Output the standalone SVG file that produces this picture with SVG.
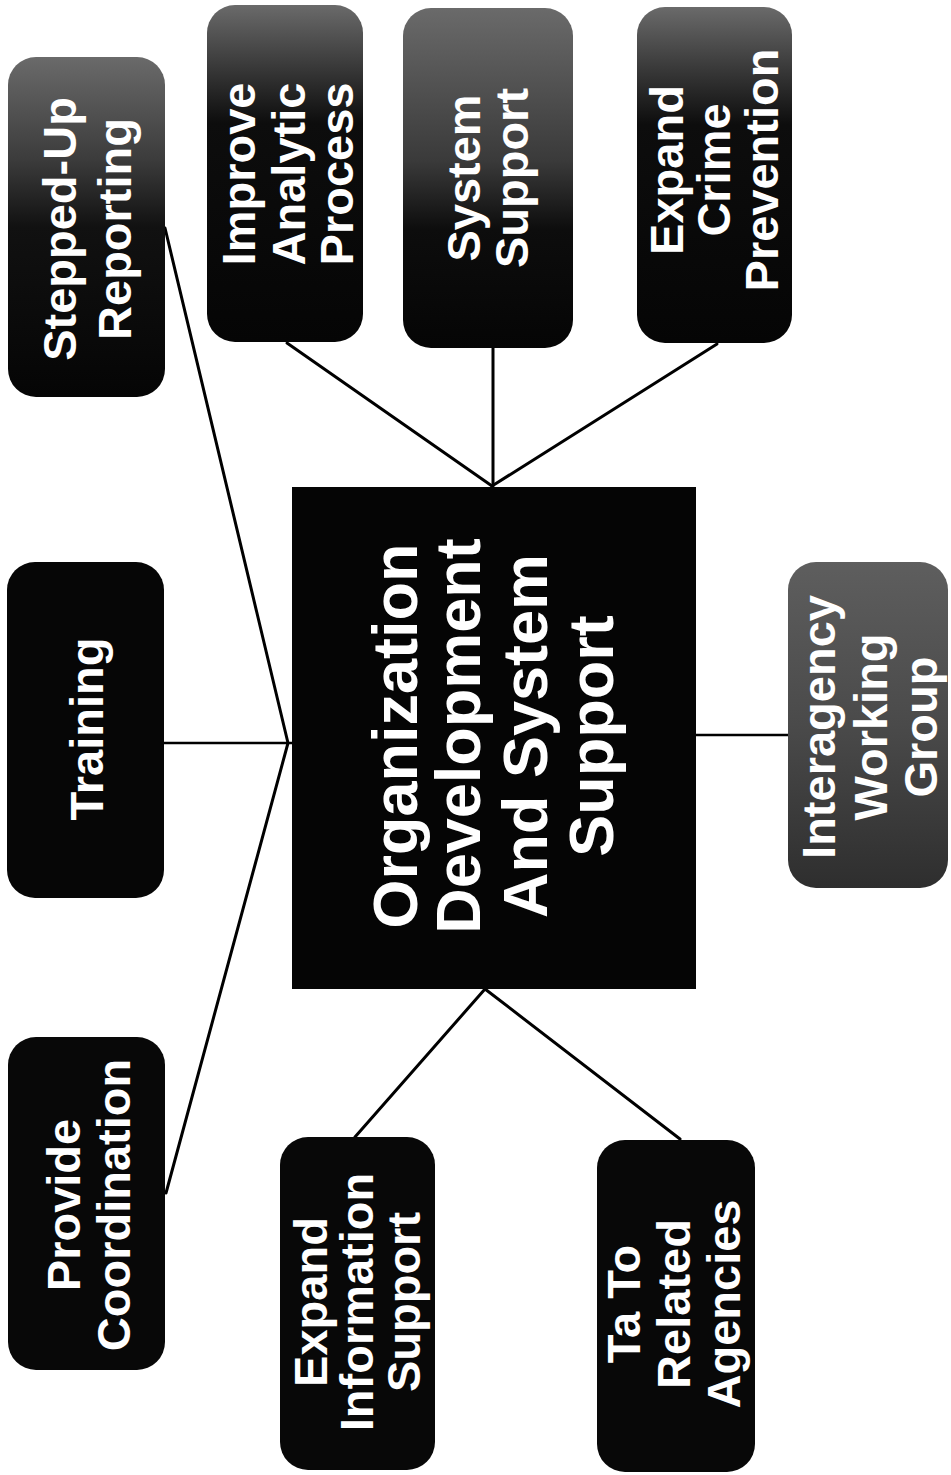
<svg xmlns="http://www.w3.org/2000/svg" width="951" height="1475" viewBox="0 0 951 1475">
<style>
.box{stroke:none}
.lbl{font-family:"Liberation Sans",Arial,Helvetica,sans-serif;font-weight:bold;fill:#fff;text-anchor:middle}
.sm{font-size:47px}
.big{font-size:63px}
.conn line{stroke:#000;stroke-width:3;stroke-linecap:round}
</style>
<defs>
<linearGradient id="gA" x1="0" y1="0" x2="0" y2="1">
<stop offset="0" stop-color="#6a6a6a"/><stop offset="0.3" stop-color="#3c3c3c"/><stop offset="0.5" stop-color="#111"/><stop offset="1" stop-color="#050505"/>
</linearGradient>
<linearGradient id="gB" x1="0" y1="0" x2="0" y2="1">
<stop offset="0" stop-color="#6a6a6a"/><stop offset="0.18" stop-color="#3a3a3a"/><stop offset="0.35" stop-color="#0d0d0d"/><stop offset="1" stop-color="#050505"/>
</linearGradient>
<linearGradient id="gC" x1="0" y1="0" x2="0" y2="1">
<stop offset="0" stop-color="#6a6a6a"/><stop offset="0.45" stop-color="#3a3a3a"/><stop offset="0.65" stop-color="#0d0d0d"/><stop offset="1" stop-color="#050505"/>
</linearGradient>
<linearGradient id="gD" x1="0" y1="0" x2="0" y2="1">
<stop offset="0" stop-color="#5e5e5e"/><stop offset="0.5" stop-color="#4a4a4a"/><stop offset="1" stop-color="#2e2e2e"/>
</linearGradient>
</defs>
<rect width="951" height="1475" fill="#fff"/>
<g class="conn">
<line x1="165" y1="228" x2="288" y2="743"/>
<line x1="164" y1="743" x2="292" y2="743" style="stroke-width:2.5"/>
<line x1="166" y1="1193" x2="288" y2="743"/>
<line x1="287" y1="343" x2="492" y2="486"/>
<line x1="493" y1="348" x2="493" y2="486"/>
<line x1="717" y1="344" x2="492" y2="486"/>
<line x1="696" y1="735" x2="788" y2="735" style="stroke-width:2.5"/>
<line x1="485" y1="989" x2="355" y2="1137"/>
<line x1="485" y1="989" x2="680" y2="1139"/>
</g>
<g id="center">
<rect class="box" x="292" y="487" width="404" height="502" fill="#050505"/>
<g transform="translate(494,736) rotate(-90)">
<text class="lbl big" x="0" y="-77">Organization</text>
<text class="lbl big" x="0" y="-14">Development</text>
<text class="lbl big" x="0" y="53">And System</text>
<text class="lbl big" x="0" y="119">Support</text>
</g>
</g>
<g id="stepped-up-reporting">
<rect class="box" x="8" y="57" width="157" height="340" rx="28" fill="url(#gA)"/>
<g transform="translate(86,229) rotate(-90)">
<text class="lbl sm" x="0" y="-10">Stepped-Up</text>
<text class="lbl sm" x="0" y="45">Reporting</text>
</g>
</g>
<g id="training">
<rect class="box" x="7" y="562" width="157" height="336" rx="28" fill="#060606"/>
<g transform="translate(85,729) rotate(-90)">
<text class="lbl sm" x="0" y="18">Training</text>
</g>
</g>
<g id="provide-coordination">
<rect class="box" x="8" y="1037" width="157" height="333" rx="28" fill="#080808"/>
<g transform="translate(86,1205) rotate(-90)">
<text class="lbl sm" x="0" y="-6">Provide</text>
<text class="lbl sm" x="0" y="44">Coordination</text>
</g>
</g>
<g id="improve-analytic-process">
<rect class="box" x="207" y="5" width="156" height="337" rx="28" fill="url(#gB)"/>
<g transform="translate(285,174) rotate(-90)">
<text class="lbl sm" x="0" y="-30">Improve</text>
<text class="lbl sm" x="0" y="20">Analytic</text>
<text class="lbl sm" x="0" y="68">Process</text>
</g>
</g>
<g id="system-support">
<rect class="box" x="403" y="8" width="170" height="340" rx="28" fill="url(#gC)"/>
<g transform="translate(488,178) rotate(-90)">
<text class="lbl sm" x="0" y="-8">System</text>
<text class="lbl sm" x="0" y="40">Support</text>
</g>
</g>
<g id="expand-crime-prevention">
<rect class="box" x="637" y="7" width="155" height="336" rx="28" fill="url(#gB)"/>
<g transform="translate(714,170) rotate(-90)">
<text class="lbl sm" x="0" y="-31">Expand</text>
<text class="lbl sm" x="0" y="16">Crime</text>
<text class="lbl sm" x="0" y="64">Prevention</text>
</g>
</g>
<g id="interagency-working-group">
<rect class="box" x="788" y="562" width="160" height="326" rx="28" fill="url(#gD)"/>
<g transform="translate(868,727) rotate(-90)">
<text class="lbl sm" x="0" y="-33">Interagency</text>
<text class="lbl sm" x="0" y="19">Working</text>
<text class="lbl sm" x="0" y="69">Group</text>
</g>
</g>
<g id="expand-information-support">
<rect class="box" x="280" y="1137" width="155" height="333" rx="28" fill="#080808"/>
<g transform="translate(357,1302) rotate(-90)">
<text class="lbl sm" x="0" y="-30">Expand</text>
<text class="lbl sm" x="0" y="16">Information</text>
<text class="lbl sm" x="0" y="63">Support</text>
</g>
</g>
<g id="ta-to-related-agencies">
<rect class="box" x="597" y="1140" width="158" height="332" rx="28" fill="#080808"/>
<g transform="translate(674,1304) rotate(-90)">
<text class="lbl sm" x="0" y="-34">Ta To</text>
<text class="lbl sm" x="0" y="16">Related</text>
<text class="lbl sm" x="0" y="66">Agencies</text>
</g>
</g>
</svg>
